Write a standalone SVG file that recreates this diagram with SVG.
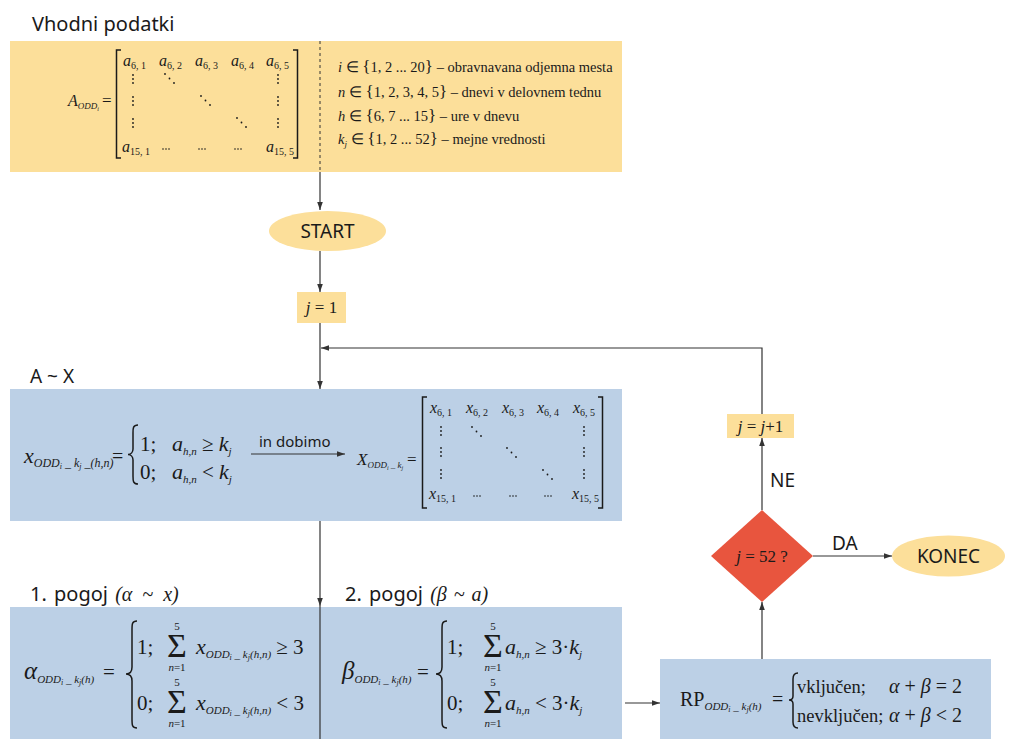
<svg xmlns="http://www.w3.org/2000/svg" width="1020" height="750" viewBox="0 0 1020 750">
<style>
.m{font-family:"Liberation Serif",serif;fill:#1a1a1a}
.i{font-style:italic}
.u{font-style:normal}
.s{font-family:"Noto Sans",sans-serif;fill:#1a1a1a}
.ln{stroke:#333;stroke-width:1.2;fill:none}
.br{stroke:#1a1a1a;stroke-width:1.5;fill:none}
.y{fill:#FCDF9A}
.b{fill:#BCD0E6}
.dot{fill:#1a1a1a}
</style>
<defs>
<marker id="ah" viewBox="0 0 10 10" refX="10" refY="5" markerWidth="8" markerHeight="8" markerUnits="userSpaceOnUse" orient="auto">
<path d="M0,1.5 L10,5 L0,8.5 z" fill="#333"/>
</marker>
<g id="vd" class="dot"><circle cx="0" cy="0" r="0.9"/><circle cx="0" cy="4" r="0.9"/><circle cx="0" cy="8" r="0.9"/></g>
<g id="dd" class="dot"><circle cx="0" cy="0" r="0.9"/><circle cx="4.5" cy="4.5" r="0.9"/><circle cx="9" cy="9" r="0.9"/></g>
<g id="hd" class="dot"><circle cx="0" cy="0" r="0.8"/><circle cx="3" cy="0" r="0.8"/><circle cx="6" cy="0" r="0.8"/></g>
</defs>

<!-- Input data -->
<g id="vhodni">
<text class="s" x="32" y="31" font-size="20">Vhodni podatki</text>
<rect class="y" x="10" y="41" width="612" height="131"/>
<line x1="320" y1="41" x2="320" y2="172" stroke="#333" stroke-width="1" stroke-dasharray="3,3"/>
<text class="m" x="68" y="106"><tspan class="i" font-size="16">A</tspan><tspan class="i" font-size="9" dy="3">ODD</tspan><tspan class="i" font-size="6" dy="2">i</tspan></text>
<text class="m" x="102" y="106" font-size="17">=</text>
<path class="br" d="M121,50 H116.5 V158 H121 M293,50 H297.5 V158 H293" stroke-width="1.2"/>
<text class="m" x="123" y="66"><tspan class="i" font-size="16">a</tspan><tspan font-size="10" dy="3">6, 1</tspan></text>
<text class="m" x="159" y="66"><tspan class="i" font-size="16">a</tspan><tspan font-size="10" dy="3">6, 2</tspan></text>
<text class="m" x="195" y="66"><tspan class="i" font-size="16">a</tspan><tspan font-size="10" dy="3">6, 3</tspan></text>
<text class="m" x="231" y="66"><tspan class="i" font-size="16">a</tspan><tspan font-size="10" dy="3">6, 4</tspan></text>
<text class="m" x="266" y="66"><tspan class="i" font-size="16">a</tspan><tspan font-size="10" dy="3">6, 5</tspan></text>
<text class="m" x="122" y="152"><tspan class="i" font-size="16">a</tspan><tspan font-size="10" dy="3">15, 1</tspan></text>
<text class="m" x="266" y="152"><tspan class="i" font-size="16">a</tspan><tspan font-size="10" dy="3">15, 5</tspan></text>
<use href="#vd" x="133" y="75"/><use href="#vd" x="133" y="97"/><use href="#vd" x="133" y="119"/>
<use href="#vd" x="278" y="75"/><use href="#vd" x="278" y="97"/><use href="#vd" x="278" y="119"/>
<use href="#dd" x="165" y="74"/><use href="#dd" x="201" y="96"/><use href="#dd" x="237" y="118"/>
<use href="#hd" x="163" y="149"/><use href="#hd" x="199" y="149"/><use href="#hd" x="235" y="149"/>
<text class="m" x="338" y="72" font-size="14.5"><tspan class="i">i</tspan> ∈ <tspan font-size="17">{</tspan>1, 2 ... 20<tspan font-size="17">}</tspan> – obravnavana odjemna mesta</text>
<text class="m" x="338" y="97" font-size="14.5"><tspan class="i">n</tspan> ∈ <tspan font-size="17">{</tspan>1, 2, 3, 4, 5<tspan font-size="17">}</tspan> – dnevi  v delovnem tednu</text>
<text class="m" x="338" y="121" font-size="14.5"><tspan class="i">h</tspan> ∈ <tspan font-size="17">{</tspan>6, 7 ... 15<tspan font-size="17">}</tspan> – ure  v dnevu</text>
<text class="m" x="338" y="144" font-size="14.5"><tspan class="i">k</tspan><tspan class="i" font-size="9" dy="3">j</tspan><tspan dy="-3"> ∈ </tspan><tspan font-size="17">{</tspan>1, 2 ... 52<tspan font-size="17">}</tspan> – mejne vrednosti</text>
</g>

<g id="start">
<ellipse class="y" cx="327.5" cy="231" rx="58.5" ry="20"/>
<text class="s" x="327.5" y="238" font-size="19" text-anchor="middle">START</text>
</g>

<g id="j1">
<rect class="y" x="297" y="292" width="49" height="31"/>
<text class="m" x="321.5" y="313" font-size="17" text-anchor="middle"><tspan class="i">j</tspan> = 1</text>
</g>

<!-- A ~ X -->
<g id="ax">
<text class="s" x="30" y="383" font-size="19">A ~ X</text>
<rect class="b" x="10" y="389" width="612" height="132"/>
<text class="m" x="24" y="463"><tspan class="i" font-size="22">x</tspan><tspan class="i" font-size="12" dy="4">ODD</tspan><tspan class="i" font-size="8" dy="2">i</tspan><tspan class="i" font-size="12" dy="-2"> _ k</tspan><tspan class="i" font-size="8" dy="2">j</tspan><tspan class="i" font-size="12" dy="-2"> _(h,n)</tspan></text>
<text class="m" x="112" y="463" font-size="20">=</text>
<path class="br" d="M138,425 C133,425 133,428 133,433 V449 C133,452 131,454.5 128,454.5 C131,454.5 133,457 133,460 V476 C133,481 133,484 138,484"/>
<text class="m" x="140" y="451" font-size="21">1;</text>
<text class="m" x="140" y="479" font-size="21">0;</text>
<text class="m" x="172" y="451"><tspan class="i" font-size="22">a</tspan><tspan class="i" font-size="11" dy="4">h,n</tspan><tspan font-size="21" dy="-4"> ≥ </tspan><tspan class="i" font-size="22">k</tspan><tspan class="i" font-size="11" dy="4">j</tspan></text>
<text class="m" x="172" y="479"><tspan class="i" font-size="22">a</tspan><tspan class="i" font-size="11" dy="4">h,n</tspan><tspan font-size="21" dy="-4"> &lt; </tspan><tspan class="i" font-size="22">k</tspan><tspan class="i" font-size="11" dy="4">j</tspan></text>
<text class="s" x="259" y="447" font-size="15">in dobimo</text>
<line class="ln" x1="251" y1="454" x2="345" y2="454" marker-end="url(#ah)"/>
<text class="m" x="357" y="465"><tspan class="i" font-size="17">X</tspan><tspan class="i" font-size="9" dy="3">ODD</tspan><tspan class="i" font-size="6" dy="2">i</tspan><tspan class="i" font-size="9" dy="-2"> _ k</tspan><tspan class="i" font-size="6" dy="2">j</tspan></text>
<text class="m" x="407" y="465" font-size="17">=</text>
<path class="br" d="M427,397 H422.5 V508 H427 M598,397 H602.5 V508 H598" stroke-width="1.2"/>
<text class="m" x="430" y="413"><tspan class="i" font-size="16">x</tspan><tspan font-size="10" dy="3">6, 1</tspan></text>
<text class="m" x="466" y="413"><tspan class="i" font-size="16">x</tspan><tspan font-size="10" dy="3">6, 2</tspan></text>
<text class="m" x="502" y="413"><tspan class="i" font-size="16">x</tspan><tspan font-size="10" dy="3">6, 3</tspan></text>
<text class="m" x="537" y="413"><tspan class="i" font-size="16">x</tspan><tspan font-size="10" dy="3">6, 4</tspan></text>
<text class="m" x="573" y="413"><tspan class="i" font-size="16">x</tspan><tspan font-size="10" dy="3">6, 5</tspan></text>
<text class="m" x="429" y="499"><tspan class="i" font-size="16">x</tspan><tspan font-size="10" dy="3">15, 1</tspan></text>
<text class="m" x="572" y="499"><tspan class="i" font-size="16">x</tspan><tspan font-size="10" dy="3">15, 5</tspan></text>
<use href="#vd" x="441" y="427"/><use href="#vd" x="441" y="448"/><use href="#vd" x="441" y="470"/>
<use href="#vd" x="584" y="427"/><use href="#vd" x="584" y="448"/><use href="#vd" x="584" y="470"/>
<use href="#dd" x="472" y="427"/><use href="#dd" x="507" y="448"/><use href="#dd" x="543" y="470"/>
<use href="#hd" x="474" y="496"/><use href="#hd" x="510" y="496"/><use href="#hd" x="545" y="496"/>
</g>

<!-- conditions -->
<g id="pogoj1">
<text class="s" x="30" y="601" font-size="20" word-spacing="2">1. pogoj <tspan class="m i" font-size="20" word-spacing="5">(α ~ x)</tspan></text>
<rect class="b" x="10" y="607" width="310" height="132"/>
<text class="m" x="24" y="679"><tspan class="i" font-size="25">α</tspan><tspan class="i" font-size="11" dy="4">ODD</tspan><tspan class="i" font-size="8" dy="2">i</tspan><tspan class="i" font-size="11" dy="-2"> _ k</tspan><tspan class="i" font-size="8" dy="2">j</tspan><tspan class="i" font-size="11" dy="-2">(h)</tspan></text>
<text class="m" x="103" y="679" font-size="21">=</text>
<path class="br" d="M137,621 C132,621 132,624 132,630 V667 C132,671 130,674 126,674 C130,674 132,677 132,681 V719 C132,725 132,728 137,728"/>
<text class="m" x="137" y="654" font-size="21">1;</text>
<text class="m" x="137" y="710" font-size="21">0;</text>
<text class="m" x="167" y="657" font-size="34">Σ</text>
<text class="m" x="177" y="630" font-size="11" text-anchor="middle">5</text>
<text class="m i" x="177" y="671" font-size="11" text-anchor="middle">n<tspan class="u">=1</tspan></text>
<text class="m" x="196" y="654"><tspan class="i" font-size="22">x</tspan><tspan class="i" font-size="11" dy="4">ODD</tspan><tspan class="i" font-size="8" dy="2">i</tspan><tspan class="i" font-size="11" dy="-2"> _ k</tspan><tspan class="i" font-size="8" dy="2">j</tspan><tspan class="i" font-size="11" dy="-2">(h,n)</tspan><tspan font-size="21" dy="-4"> ≥  3</tspan></text>
<text class="m" x="167" y="713" font-size="34">Σ</text>
<text class="m" x="177" y="686" font-size="11" text-anchor="middle">5</text>
<text class="m i" x="177" y="727" font-size="11" text-anchor="middle">n<tspan class="u">=1</tspan></text>
<text class="m" x="196" y="710"><tspan class="i" font-size="22">x</tspan><tspan class="i" font-size="11" dy="4">ODD</tspan><tspan class="i" font-size="8" dy="2">i</tspan><tspan class="i" font-size="11" dy="-2"> _ k</tspan><tspan class="i" font-size="8" dy="2">j</tspan><tspan class="i" font-size="11" dy="-2">(h,n)</tspan><tspan font-size="21" dy="-4"> &lt; 3</tspan></text>
</g>

<g id="pogoj2">
<text class="s" x="345" y="601" font-size="20" word-spacing="2">2. pogoj <tspan class="m i" font-size="20">(β ~ a)</tspan></text>
<rect class="b" x="320" y="607" width="302" height="132"/>
<text class="m" x="342" y="679"><tspan class="i" font-size="25">β</tspan><tspan class="i" font-size="11" dy="4">ODD</tspan><tspan class="i" font-size="8" dy="2">i</tspan><tspan class="i" font-size="11" dy="-2"> _ k</tspan><tspan class="i" font-size="8" dy="2">j</tspan><tspan class="i" font-size="11" dy="-2">(h)</tspan></text>
<text class="m" x="417" y="679" font-size="21">=</text>
<path class="br" d="M447,621 C442,621 442,624 442,630 V667 C442,671 440,674 436,674 C440,674 442,677 442,681 V719 C442,725 442,728 447,728"/>
<text class="m" x="447" y="654" font-size="21">1;</text>
<text class="m" x="447" y="710" font-size="21">0;</text>
<text class="m" x="483" y="657" font-size="34">Σ</text>
<text class="m" x="493" y="630" font-size="11" text-anchor="middle">5</text>
<text class="m i" x="493" y="671" font-size="11" text-anchor="middle">n<tspan class="u">=1</tspan></text>
<text class="m" x="505" y="654"><tspan class="i" font-size="22">a</tspan><tspan class="i" font-size="11" dy="4">h,n</tspan><tspan font-size="21" dy="-4"> ≥ 3·</tspan><tspan class="i" font-size="22">k</tspan><tspan class="i" font-size="11" dy="4">j</tspan></text>
<text class="m" x="483" y="713" font-size="34">Σ</text>
<text class="m" x="493" y="686" font-size="11" text-anchor="middle">5</text>
<text class="m i" x="493" y="727" font-size="11" text-anchor="middle">n<tspan class="u">=1</tspan></text>
<text class="m" x="505" y="710"><tspan class="i" font-size="22">a</tspan><tspan class="i" font-size="11" dy="4">h,n</tspan><tspan font-size="21" dy="-4"> &lt; 3·</tspan><tspan class="i" font-size="22">k</tspan><tspan class="i" font-size="11" dy="4">j</tspan></text>
</g>

<g id="rp">
<rect class="b" x="660" y="659" width="331" height="80"/>
<text class="m" x="680" y="706"><tspan font-size="20">RP</tspan><tspan class="i" font-size="11" dy="4">ODD</tspan><tspan class="i" font-size="8" dy="2">i</tspan><tspan class="i" font-size="11" dy="-2"> _ k</tspan><tspan class="i" font-size="8" dy="2">j</tspan><tspan class="i" font-size="11" dy="-2">(h)</tspan></text>
<text class="m" x="772" y="706" font-size="20">=</text>
<path class="br" d="M798,673 C794,673 793,675 793,679 V696 C793,698 792,700 789,700 C792,700 793,702 793,704 V722 C793,726 794,728 798,728"/>
<text class="m" x="797" y="693" font-size="18.5">vključen;</text>
<text class="m" x="797" y="722" font-size="18.5">nevključen;</text>
<text class="m" x="889" y="693" font-size="20"><tspan class="i">α</tspan> + <tspan class="i">β</tspan> = 2</text>
<text class="m" x="889" y="722" font-size="20"><tspan class="i">α</tspan> + <tspan class="i">β</tspan> &lt; 2</text>
</g>

<g id="odlocitev">
<polygon points="762,510 813,556 762,602 711,556" fill="#E8553E"/>
<text class="m" x="762" y="562" font-size="17" text-anchor="middle"><tspan class="i">j</tspan> = 52 ?</text>
</g>

<g id="jinc">
<rect class="y" x="727" y="414" width="67" height="24"/>
<text class="m" x="760.5" y="432" font-size="17" text-anchor="middle"><tspan class="i">j</tspan> = <tspan class="i">j</tspan>+1</text>
</g>

<g id="konec">
<ellipse class="y" cx="948.5" cy="556" rx="56.5" ry="20.5"/>
<text class="s" x="948.5" y="563" font-size="19" text-anchor="middle">KONEC</text>
</g>

<g id="connectors">
<line class="ln" x1="320" y1="172" x2="320" y2="210" marker-end="url(#ah)"/>
<line class="ln" x1="320" y1="251" x2="320" y2="292" marker-end="url(#ah)"/>
<line class="ln" x1="320" y1="323" x2="320" y2="389" marker-end="url(#ah)"/>
<polyline class="ln" points="762,414 762,348 321,348" marker-end="url(#ah)"/>
<line class="ln" x1="320" y1="521" x2="320" y2="606" marker-end="url(#ah)"/>
<line class="ln" x1="320" y1="606" x2="320" y2="739"/>
<line class="ln" x1="625" y1="703" x2="660" y2="703" marker-end="url(#ah)"/>
<line class="ln" x1="762" y1="659" x2="762" y2="602" marker-end="url(#ah)"/>
<line class="ln" x1="762" y1="510" x2="762" y2="438" marker-end="url(#ah)"/>
<line class="ln" x1="813" y1="556" x2="892" y2="556" marker-end="url(#ah)"/>
<text class="s" x="770" y="487" font-size="19">NE</text>
<text class="s" x="832" y="550" font-size="19">DA</text>
</g>
</svg>
